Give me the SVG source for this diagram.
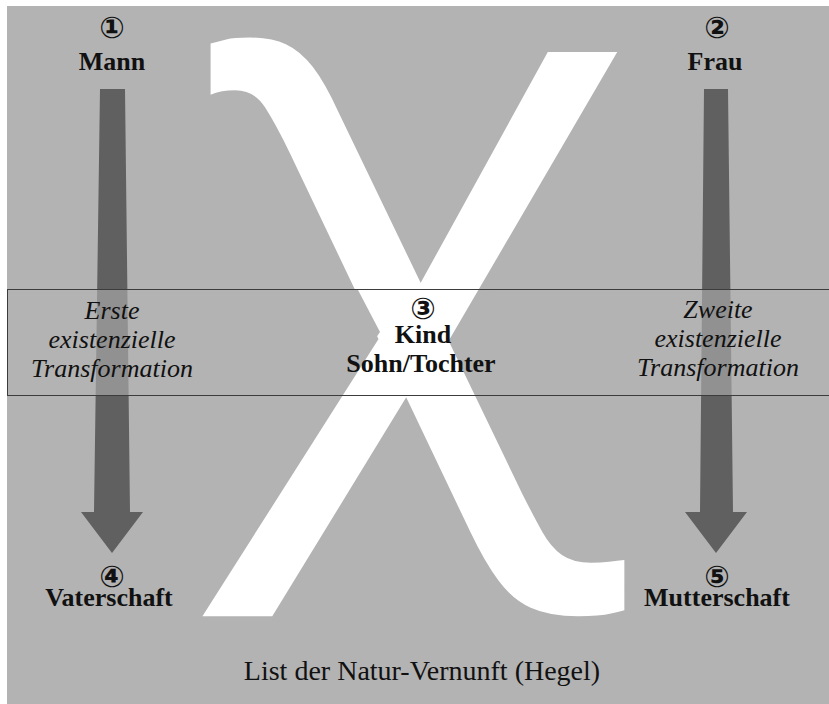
<svg xmlns="http://www.w3.org/2000/svg" width="829" height="704" viewBox="0 0 829 704">
  <style>
    .node { font-family: "Liberation Serif", "DejaVu Serif", serif; font-weight: bold; font-size: 26px; fill: #111; text-anchor: middle; }
    .num { font-family: "DejaVu Sans", "Noto Sans", sans-serif; font-weight: bold; font-size: 30px; fill: #111; text-anchor: middle; }
    .note { font-family: "Liberation Serif", "DejaVu Serif", serif; font-style: italic; font-size: 26px; fill: #111; text-anchor: middle; }
    .title { font-family: "Liberation Serif", "DejaVu Serif", serif; font-size: 28px; fill: #111; text-anchor: middle; }
    .arrow { fill: #606060; }
    .veil { fill: #b3b3b3; }
  </style>
  <defs>
    <!-- trims the upper right arm of the chi so it ends a little lower than the hook -->
    <clipPath id="chi-trim">
      <polygon points="0,0 450,0 450,52 829,52 829,704 0,704"/>
    </clipPath>
  </defs>

  <!-- backdrop -->
  <rect x="0" y="0" width="829" height="704" fill="#ffffff"/>
  <rect x="7" y="6" width="822" height="698" fill="#b3b3b3"/>

  <!-- large chi -->
  <text id="chi" x="189" y="438" font-family="'Noto Sans', 'DejaVu Sans', sans-serif" font-size="743" fill="#ffffff" clip-path="url(#chi-trim)">χ</text>

  <!-- transformation band: chevrons pointing to the centre -->
  <g id="band">
    <polygon class="veil" points="8,290 358,290 380,332 337,395 8,395"/>
    <polygon class="veil" points="829,290 490,290 466,332 508,395 829,395"/>
  </g>

  <!-- connectors -->
  <g id="connectors">
    <polygon class="arrow" points="100,89 125,89 130,512 143,512 112,553 81,512 94,512"/>
    <polygon class="arrow" points="704,89 728,89 733,512 747,512 716,553 685,512 700,512"/>
    <!-- lighter stretch where the arrows cross the band -->
    <rect x="90" y="290" width="45" height="105" fill="#b3b3b3" opacity="0.6"/>
    <rect x="695" y="290" width="45" height="105" fill="#b3b3b3" opacity="0.6"/>
  </g>

  <rect x="7.5" y="289.5" width="822" height="106" fill="none" stroke="#3c3c3c" stroke-width="1"/>

  <g id="label-left">
    <text class="note" x="112" y="319">Erste</text>
    <text class="note" x="112" y="348">existenzielle</text>
    <text class="note" x="112" y="377">Transformation</text>
  </g>
  <g id="label-right">
    <text class="note" x="718" y="318">Zweite</text>
    <text class="note" x="718" y="347">existenzielle</text>
    <text class="note" x="718" y="376">Transformation</text>
  </g>

  <g id="node-mann">
    <text class="num" x="112" y="38">①</text>
    <text class="node" x="112" y="70">Mann</text>
  </g>
  <g id="node-frau">
    <text class="num" x="717" y="38">②</text>
    <text class="node" x="715" y="70">Frau</text>
  </g>
  <g id="node-kind">
    <text class="num" x="423" y="319">③</text>
    <text class="node" x="423" y="343">Kind</text>
    <text class="node" x="421" y="372">Sohn/Tochter</text>
  </g>
  <g id="node-vaterschaft">
    <text class="num" x="112" y="587">④</text>
    <text class="node" x="109" y="606">Vaterschaft</text>
  </g>
  <g id="node-mutterschaft">
    <text class="num" x="717" y="587">⑤</text>
    <text class="node" x="717" y="606">Mutterschaft</text>
  </g>

  <text id="caption" class="title" x="422" y="680">List der Natur-Vernunft (Hegel)</text>
</svg>
